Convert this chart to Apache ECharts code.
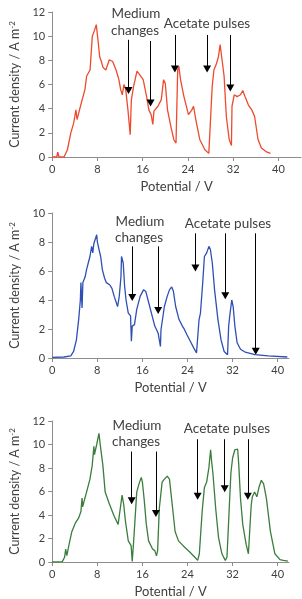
<!DOCTYPE html>
<html>
<head>
<meta charset="utf-8">
<script src="https://cdn.jsdelivr.net/npm/echarts@6/dist/echarts.min.js"></script>
<style>
  html, body { margin: 0; padding: 0; background: #fff; }
  #chart { width: 302px; height: 599px; }
</style>
</head>
<body>
<div id="chart"></div>
<script>
// panel 1 (red)
const redPotential = [0, 0.8, 1.0, 1.2, 2.1, 2.7, 3.3, 3.8, 4.2, 4.4, 5.0, 5.8, 6.1, 6.7, 7.1, 7.5, 7.8, 8.1, 8.4, 8.7, 9.0, 9.5, 10.1, 10.7, 11.3, 11.8, 12.1, 12.4, 12.7, 13.0, 13.4, 13.8, 14.0, 14.4, 15.0, 15.5, 16.1, 16.7, 17.1, 17.5, 17.8, 18.0, 18.7, 19.3, 19.7, 20.0, 20.4, 21.0, 21.5, 21.9, 22.2, 22.4, 22.7, 23.3, 24.1, 24.7, 25.0, 25.4, 26.1, 27.0, 27.7, 27.9, 28.3, 28.6, 29.0, 29.4, 29.7, 30.0, 30.4, 30.8, 31.3, 31.7, 31.8, 32.2, 32.7, 33.3, 33.7, 34.1, 34.7, 35.3, 35.8, 36.4, 37.0, 37.8, 38.6];
const redCurrent   = [0, 0, 0.4, 0, 0, 0.6, 2.0, 2.8, 3.9, 3.1, 4.2, 5.6, 6.7, 7.2, 10.0, 10.5, 10.95, 9.7, 8.3, 7.9, 7.4, 7.2, 8.05, 7.9, 7.2, 6.4, 5.6, 5.15, 6.0, 5.6, 3.9, 1.85, 4.7, 5.85, 7.1, 6.8, 6.4, 5.0, 3.9, 3.5, 2.7, 3.8, 4.2, 4.75, 6.4, 6.1, 3.9, 2.5, 1.45, 1.15, 7.2, 7.5, 6.4, 5.0, 3.5, 3.9, 4.2, 3.1, 1.45, 0.6, 0.3, 0.3, 5.85, 7.2, 7.65, 8.3, 9.3, 9.2, 6.7, 3.35, 1.45, 0.95, 4.2, 5.15, 5.0, 5.15, 5.5, 5.0, 4.3, 3.9, 3.35, 1.45, 0.75, 0.45, 0.3];

// panel 2 (blue)
const bluePotential = [0, 2.1, 3.3, 3.8, 4.3, 4.7, 5.0, 5.1, 5.3, 5.45, 5.85, 6.1, 6.4, 6.7, 7.0, 7.2, 7.4, 7.6, 7.9, 8.0, 8.3, 8.6, 8.9, 9.3, 9.6, 10.2, 10.6, 11.0, 11.6, 11.9, 12.2, 12.3, 12.6, 12.85, 13.1, 13.5, 13.9, 14.05, 14.2, 14.6, 15.0, 15.6, 16.2, 16.6, 17.0, 17.6, 18.2, 18.8, 19.0, 19.2, 19.3, 19.9, 20.4, 20.8, 21.2, 21.5, 21.9, 22.5, 23.1, 23.35, 23.9, 24.5, 25.1, 25.6, 25.9, 26.05, 26.3, 26.7, 27.0, 27.4, 27.65, 27.8, 28.05, 28.4, 28.8, 29.4, 29.95, 30.5, 31.1, 31.3, 31.55, 31.85, 32.1, 32.4, 32.8, 33.4, 34.25, 35.95, 38.3, 41.7];
const blueCurrent   = [0.05, 0.07, 0.15, 0.45, 1.25, 2.65, 4.0, 5.2, 3.45, 5.2, 5.6, 6.1, 6.55, 7.0, 7.7, 7.25, 7.9, 7.8, 8.5, 8.05, 7.5, 7.0, 6.1, 5.5, 5.2, 5.05, 4.8, 4.25, 3.55, 4.25, 5.6, 7.0, 6.55, 4.95, 4.0, 3.1, 2.9, 1.15, 2.2, 2.3, 3.35, 4.25, 4.7, 4.6, 4.0, 3.1, 2.2, 1.7, 1.6, 0.8, 1.95, 3.55, 4.25, 4.7, 4.9, 4.6, 3.55, 2.65, 2.2, 2.05, 1.6, 1.15, 0.7, 0.35, 0.28, 2.65, 3.1, 5.2, 7.0, 7.25, 7.25, 7.7, 7.5, 6.55, 4.7, 2.65, 1.25, 0.45, 0.23, 2.2, 3.1, 4.0, 3.55, 2.2, 1.05, 0.6, 0.4, 0.23, 0.14, 0.07];

// panel 3 (green)
const greenPotential = [0, 1.8, 2.2, 2.4, 2.6, 3.0, 3.5, 4.1, 4.7, 5.1, 5.3, 5.4, 6.1, 6.7, 7.1, 7.4, 7.5, 7.9, 8.3, 8.5, 9.0, 9.4, 10.1, 11.0, 11.7, 11.9, 12.4, 12.7, 13.0, 13.5, 14.0, 14.2, 14.5, 15.0, 15.4, 15.8, 16.0, 16.3, 16.7, 17.1, 17.8, 18.2, 18.5, 18.7, 19.0, 19.5, 19.9, 20.4, 20.8, 21.3, 21.8, 22.4, 23.0, 23.1, 23.5, 24.4, 25.3, 25.8, 26.1, 26.6, 27.0, 27.4, 27.8, 28.1, 28.3, 28.5, 29.0, 29.5, 30.1, 30.7, 31.0, 31.4, 31.7, 32.0, 32.4, 32.9, 33.1, 33.4, 33.8, 34.4, 34.8, 35.0, 35.3, 35.5, 35.9, 36.3, 36.7, 37.1, 37.5, 38.0, 38.7, 39.5, 40.4, 41.0, 41.8];
const greenCurrent   = [0, 0.03, 0.4, 1.1, 0.55, 1.5, 2.6, 3.3, 3.75, 4.3, 5.45, 4.7, 5.95, 7.05, 8.2, 9.85, 9.15, 10.0, 10.95, 10.1, 8.2, 5.95, 5.0, 3.9, 3.2, 3.3, 5.7, 4.85, 3.45, 1.8, 1.4, 0.05, 2.1, 5.95, 6.65, 7.2, 6.8, 5.4, 3.2, 1.8, 1.1, 0.97, 0.52, 0.97, 4.55, 6.8, 7.05, 7.3, 7.05, 4.85, 2.6, 1.8, 1.5, 1.65, 1.25, 0.85, 0.4, 0.14, 0.7, 4.3, 6.35, 6.8, 8.05, 9.55, 8.45, 7.6, 4.55, 2.1, 0.7, 0.14, 0.4, 4.55, 7.6, 8.85, 9.55, 9.6, 8.2, 5.4, 3.2, 1.5, 0.7, 0.65, 4.85, 5.55, 5.95, 5.55, 6.4, 6.95, 6.65, 5.4, 2.6, 0.7, 0.2, 0.14, 0.08];

// arrows: x, top of shaft, centre of arrowhead (data units)
const redArrowX = [13.5, 17.4, 21.7, 27.4, 31.5];
const redArrowTop = [9.7, 9.6, 10.1, 10.1, 10.1];
const redArrowHead = [5.5, 4.47, 7.28, 7.28, 5.71];

const blueArrowX = [14.2, 18.8, 25.4, 30.7, 36.1];
const blueArrowTop = [7.7, 7.7, 8.6, 8.6, 8.6];
const blueArrowHead = [4.18, 3.28, 6.2, 4.3, 0.46];

const greenArrowX = [14.1, 18.4, 25.8, 30.6, 34.7];
const greenArrowTop = [9.4, 9.4, 10.45, 10.45, 10.45];
const greenArrowHead = [5.21, 4.13, 5.6, 6.23, 5.6];

const xTicks = [0, 8, 16, 24, 32, 40];

const FONT = 'Lato';
const TEXT = '#404040';
const AXIS = '#8c8c8c';

const chart = echarts.init(document.getElementById('chart'), null, { renderer: 'canvas' });

const grids = [
    { left: 44, top: 12, width: 257, height: 145 },
    { left: 44, top: 213, width: 245, height: 145 },
    { left: 44, top: 421, width: 245, height: 144 },
];

function pairs(xs, ys) {
    return xs.map((x, i) => [x, ys[i]]);
}

function arrows(xs, tops, heads) {
    return xs.map((x, i) => [{ coord: [x, tops[i]] }, { coord: [x, heads[i]] }]);
}

function makeX(idx, max) {
    return {
        gridIndex: idx,
        type: 'value',
        min: 0,
        max: max,
        interval: 8,
        name: 'Potential / V',
        nameLocation: 'middle',
        nameGap: 23,
        nameTextStyle: { fontFamily: FONT, fontSize: 13, color: TEXT },
        axisLine: { lineStyle: { color: AXIS, width: 1 } },
        axisTick: { show: true, length: 4, customValues: xTicks, lineStyle: { color: AXIS } },
        axisLabel: { customValues: xTicks, fontFamily: FONT, fontSize: 11, color: TEXT, margin: 7 },
        splitLine: { show: false },
    };
}

function makeY(idx, max) {
    return {
        gridIndex: idx,
        type: 'value',
        min: 0,
        max: max,
        interval: 2,
        name: '{t|Current density / A m}{s|-2}',
        nameLocation: 'middle',
        nameRotate: 90,
        nameGap: 27,
        nameTextStyle: {
            fontFamily: FONT, color: TEXT,
            rich: {
                t: { fontFamily: FONT, fontSize: 12.5, color: TEXT, lineHeight: 14 },
                s: { fontFamily: FONT, fontSize: 8, color: TEXT, verticalAlign: 'top', lineHeight: 14 },
            },
        },
        axisLine: { show: true, lineStyle: { color: AXIS, width: 1 } },
        axisTick: { show: true, length: 4, lineStyle: { color: AXIS } },
        axisLabel: { fontFamily: FONT, fontSize: 11, color: TEXT, margin: 7 },
        splitLine: { show: false },
    };
}

function makeSeries(idx, data, color, arrowData) {
    return {
        type: 'line',
        xAxisIndex: idx,
        yAxisIndex: idx,
        data: data,
        showSymbol: false,
        lineStyle: { color: color, width: 1.3 },
        animation: false,
        markLine: {
            silent: true,
            symbol: ['none', 'triangle'],
            symbolSize: [8, 7],
            label: { show: false },
            lineStyle: { color: '#000', width: 1, type: 'solid' },
            data: arrowData,
            animation: false,
        },
    };
}

function label(x, y, text) {
    return {
        type: 'text',
        x: x,
        y: y,
        style: { text: text, fontFamily: FONT, fontSize: 13.5, fill: TEXT, align: 'center', verticalAlign: 'middle' },
    };
}

const option = {
    backgroundColor: '#fff',
    animation: false,
    grid: grids,
    xAxis: [makeX(0, 44), makeX(1, 42), makeX(2, 42)],
    yAxis: [makeY(0, 12), makeY(1, 10), makeY(2, 12)],
    series: [
        makeSeries(0, pairs(redPotential, redCurrent), '#ee4a2e', arrows(redArrowX, redArrowTop, redArrowHead)),
        makeSeries(1, pairs(bluePotential, blueCurrent), '#2e4fb4', arrows(blueArrowX, blueArrowTop, blueArrowHead)),
        makeSeries(2, pairs(greenPotential, greenCurrent), '#3a7d3c', arrows(greenArrowX, greenArrowTop, greenArrowHead)),
    ],
    graphic: [
        label(136, 14, 'Medium'),
        label(135, 31, 'changes'),
        label(207, 24, 'Acetate pulses'),
        label(140, 222, 'Medium'),
        label(139, 238, 'changes'),
        label(228, 224, 'Acetate pulses'),
        label(137, 426, 'Medium'),
        label(136, 442, 'changes'),
        label(227, 429, 'Acetate pulses'),
    ],
};

chart.setOption(option);
</script>
</body>
</html>
